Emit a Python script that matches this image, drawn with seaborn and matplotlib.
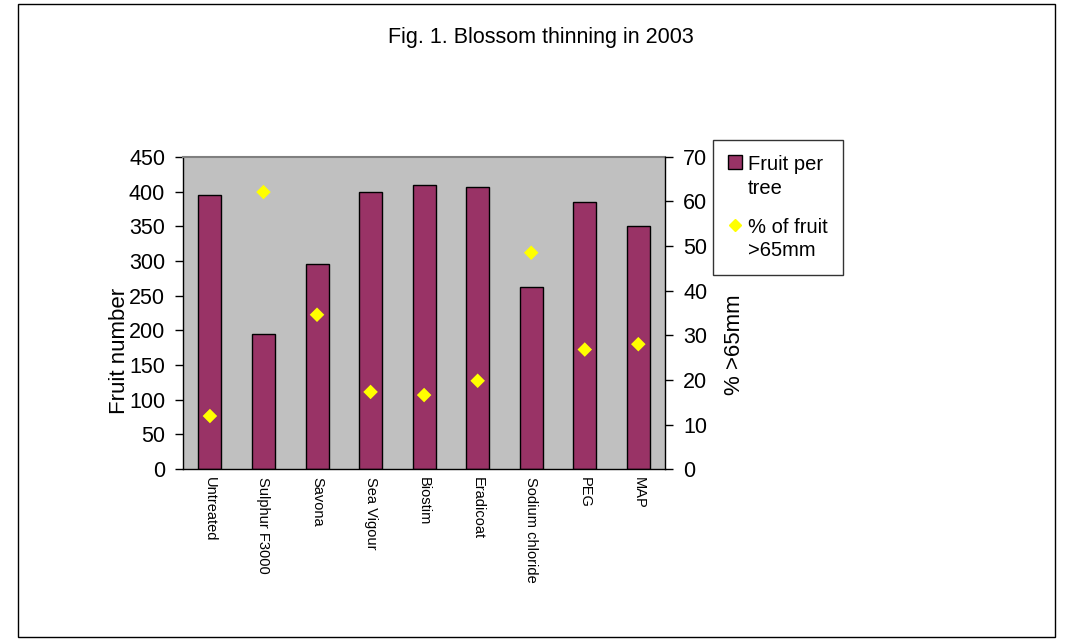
import matplotlib
matplotlib.use("Agg")
import matplotlib.pyplot as plt
import seaborn as sns
import pandas as pd
import numpy as np
from matplotlib.patches import Rectangle
from matplotlib.lines import Line2D
from matplotlib.ticker import MultipleLocator

treatments = ["Untreated", "Sulphur F3000", "Savona", "Sea Vigour", "Biostim",
              "Eradicoat", "Sodium chloride", "PEG", "MAP"]
fruit_per_tree = [395, 195, 296, 400, 410, 407, 263, 385, 350]
pct_over_65 = [11.9, 62.1, 34.6, 17.3, 16.6, 19.8, 48.5, 26.8, 28.0]

df = pd.DataFrame({"treatment": treatments, "fruit": fruit_per_tree, "pct": pct_over_65})

sns.set_style("white")
plt.rcParams["font.family"] = ["Liberation Sans", "DejaVu Sans"]
plt.rcParams.update({"text.color": "black", "axes.labelcolor": "black",
                     "xtick.color": "black", "ytick.color": "black"})

fig = plt.figure(figsize=(10.71, 6.4), dpi=100)
ax = fig.add_axes([0.171, 0.267, 0.450, 0.488])
ax.set_facecolor("#C0C0C0")

sns.barplot(data=df, x="treatment", y="fruit", color="#993366", edgecolor="black",
            linewidth=1, width=0.43, saturation=1, ax=ax)
ax.set_ylim(0, 450)
ax.set_xlim(-0.5, len(treatments) - 0.5)
ax.yaxis.set_major_locator(MultipleLocator(50))
ax.set_ylabel("Fruit number", fontsize=16, labelpad=2)
ax.yaxis.set_label_coords(-0.11, 0.38)
ax.set_xlabel("")
ax.set_xticks(np.arange(len(treatments)))
ax.set_xticklabels(treatments, rotation=270, fontsize=10.5, va="top", ha="center")
ax.tick_params(axis="x", length=0, pad=6)
ax.set_xticks(np.arange(len(treatments) + 1) - 0.5, minor=True)
ax.tick_params(axis="x", which="minor", length=6, direction="out", color="black", width=1)
ax.tick_params(axis="y", labelsize=15.5, length=6, direction="out", color="black", width=1,
               left=True, pad=7)

for s in ["left", "bottom"]:
    ax.spines[s].set_color("black")
    ax.spines[s].set_linewidth(1)
ax.spines["top"].set_color("#808080")
ax.spines["top"].set_linewidth(1.5)
ax.spines["right"].set_visible(False)

ax2 = ax.twinx()
sns.scatterplot(data=df, x="treatment", y="pct", marker="D", color="#FFFF00",
                s=55, edgecolor="none", ax=ax2, legend=False, zorder=5)
ax2.set_ylim(0, 70)
ax2.yaxis.set_major_locator(MultipleLocator(10))
ax2.set_ylabel("% >65mm", fontsize=16)
ax2.yaxis.set_label_coords(1.122, 0.40)
ax2.tick_params(axis="y", labelsize=15.5, length=6, direction="out", color="black", width=1,
                right=True, pad=7)
for s in ["left", "top", "bottom"]:
    ax2.spines[s].set_visible(False)
ax2.spines["right"].set_color("black")
ax2.spines["right"].set_linewidth(1)
ax2.set_xlim(-0.5, len(treatments) - 0.5)

fig.text(0.505, 1 - 37 / 640, "Fig. 1. Blossom thinning in 2003", ha="center", va="center",
         fontsize=15.5)

handles = [
    Rectangle((0, 0), 1, 1, facecolor="#993366", edgecolor="black", linewidth=1),
    Line2D([], [], marker="D", color="#FFFF00", linestyle="none", markersize=6),
]
leg = fig.legend(handles, ["Fruit per\ntree", "% of fruit\n>65mm"], loc="upper left",
                 bbox_to_anchor=(713 / 1071, 1 - 140 / 640), fontsize=14.5, frameon=True,
                 fancybox=False, edgecolor="black", handlelength=0.7, handleheight=0.7,
                 handletextpad=0.3, labelspacing=1.0, borderpad=0.75, borderaxespad=0)
leg.get_frame().set_linewidth(1)
for t in leg.get_texts():
    t.set_linespacing(1.3)
for col in leg._legend_handle_box.get_children():
    for item in col.get_children():
        item.align = "top"

fig.patches.append(Rectangle((18 / 1071, 3 / 640), (1055 - 18) / 1071, (636 - 3) / 640,
                             transform=fig.transFigure, fill=False, edgecolor="black",
                             linewidth=1))

fig.savefig("out.png", dpi=100)
